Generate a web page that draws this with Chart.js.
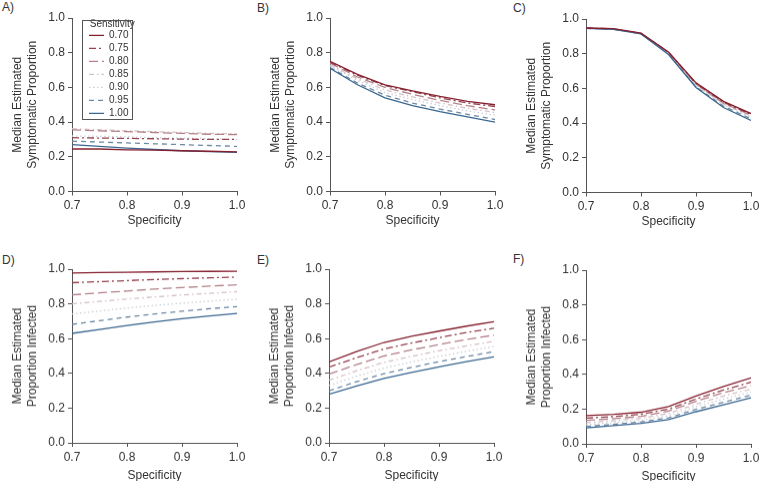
<!DOCTYPE html>
<html>
<head>
<meta charset="utf-8">
<script src="https://cdn.jsdelivr.net/npm/chart.js@4.4.1/dist/chart.umd.min.js"></script>
<style>
  html, body { margin: 0; padding: 0; background: #fff; overflow: hidden; }
  #fig { position: relative; width: 759px; height: 481px; font-family: 'Liberation Sans', Arial, sans-serif; }
  .panel { position: absolute; }
  .tag { position: absolute; font-size: 12px; line-height: 12px; color: #333; }
</style>
</head>
<body>
<div id="fig">
  <div class="tag" style="left:2px;top:1px">A)</div>
  <div class="tag" style="left:257px;top:2px">B)</div>
  <div class="tag" style="left:513px;top:2px">C)</div>
  <div class="tag" style="left:2px;top:254px">D)</div>
  <div class="tag" style="left:257px;top:254px">E)</div>
  <div class="tag" style="left:513px;top:253px">F)</div>
  <div class="panel" id="boxA" style="left:0;top:0"><canvas id="chartA"></canvas></div>
  <div class="panel" id="boxB" style="left:258px;top:0"><canvas id="chartB"></canvas></div>
  <div class="panel" id="boxC" style="left:514px;top:1px"><canvas id="chartC"></canvas></div>
  <div class="panel" id="boxD" style="left:0;top:251px"><canvas id="chartD"></canvas></div>
  <div class="panel" id="boxE" style="left:257px;top:251px"><canvas id="chartE"></canvas></div>
  <div class="panel" id="boxF" style="left:514px;top:252px"><canvas id="chartF"></canvas></div>
</div>
<script>
// -------------------------------------------- data
const specificity = [0.70, 0.75, 0.80, 0.85, 0.90, 0.95, 1.00];
const sensitivity = ['0.70', '0.75', '0.80', '0.85', '0.90', '0.95', '1.00'];
const xTicks = [0.7, 0.8, 0.9, 1.0];
const yTicks = [0.0, 0.2, 0.4, 0.6, 0.8, 1.0];

// one row per sensitivity, one value per specificity
const symptomaticA = [
    [0.245, 0.245, 0.240, 0.238, 0.235, 0.232, 0.228],
    [0.310, 0.308, 0.306, 0.304, 0.302, 0.300, 0.300],
    [0.355, 0.350, 0.345, 0.340, 0.335, 0.330, 0.328],
    [0.362, 0.356, 0.350, 0.345, 0.340, 0.335, 0.332],
    [0.320, 0.318, 0.315, 0.310, 0.308, 0.305, 0.300],
    [0.290, 0.285, 0.280, 0.275, 0.270, 0.265, 0.260],
    [0.270, 0.260, 0.250, 0.242, 0.235, 0.230, 0.225]
];
const symptomaticB = [
    [0.750, 0.675, 0.615, 0.580, 0.548, 0.520, 0.500],
    [0.745, 0.670, 0.610, 0.575, 0.540, 0.510, 0.490],
    [0.740, 0.660, 0.600, 0.560, 0.525, 0.495, 0.470],
    [0.730, 0.650, 0.585, 0.545, 0.510, 0.480, 0.455],
    [0.725, 0.640, 0.570, 0.530, 0.495, 0.465, 0.440],
    [0.715, 0.625, 0.555, 0.510, 0.475, 0.445, 0.415],
    [0.710, 0.615, 0.540, 0.495, 0.460, 0.430, 0.400]
];
const symptomaticC = [
    [0.948, 0.944, 0.918, 0.810, 0.632, 0.525, 0.455],
    [0.948, 0.943, 0.917, 0.808, 0.628, 0.520, 0.450],
    [0.947, 0.943, 0.917, 0.806, 0.625, 0.515, 0.445],
    [0.947, 0.942, 0.916, 0.804, 0.620, 0.510, 0.440],
    [0.947, 0.942, 0.915, 0.802, 0.615, 0.505, 0.435],
    [0.946, 0.941, 0.915, 0.800, 0.610, 0.498, 0.425],
    [0.946, 0.940, 0.914, 0.795, 0.605, 0.490, 0.415]
];
const infectedD = [
    [0.978, 0.980, 0.982, 0.984, 0.986, 0.987, 0.988],
    [0.922, 0.928, 0.934, 0.940, 0.945, 0.950, 0.954],
    [0.852, 0.863, 0.874, 0.885, 0.894, 0.902, 0.910],
    [0.800, 0.814, 0.828, 0.840, 0.851, 0.861, 0.870],
    [0.742, 0.759, 0.776, 0.791, 0.804, 0.816, 0.826],
    [0.682, 0.703, 0.724, 0.742, 0.758, 0.772, 0.784],
    [0.630, 0.653, 0.675, 0.696, 0.715, 0.731, 0.745]
];
const infectedE = [
    [0.466, 0.525, 0.578, 0.613, 0.643, 0.672, 0.697],
    [0.435, 0.490, 0.540, 0.575, 0.605, 0.635, 0.660],
    [0.395, 0.450, 0.500, 0.535, 0.566, 0.595, 0.620],
    [0.360, 0.415, 0.463, 0.498, 0.530, 0.558, 0.585],
    [0.330, 0.383, 0.430, 0.465, 0.498, 0.527, 0.555],
    [0.300, 0.352, 0.398, 0.434, 0.467, 0.497, 0.525],
    [0.280, 0.327, 0.370, 0.405, 0.437, 0.467, 0.495]
];
const infectedF = [
    [0.162, 0.170, 0.182, 0.215, 0.275, 0.330, 0.380],
    [0.148, 0.157, 0.170, 0.200, 0.258, 0.310, 0.355],
    [0.135, 0.145, 0.158, 0.188, 0.245, 0.295, 0.335],
    [0.122, 0.133, 0.147, 0.175, 0.228, 0.275, 0.315],
    [0.110, 0.122, 0.136, 0.162, 0.213, 0.258, 0.298],
    [0.100, 0.112, 0.126, 0.150, 0.198, 0.240, 0.280],
    [0.092, 0.105, 0.118, 0.140, 0.185, 0.225, 0.265]
];

// -------------------------------------------- styles
const lineColors = ['#85202f', '#974350', '#b3828a', '#d5c1c6', '#cbcfd5', '#6b88a5', '#3a6690'];
const lineDashes = [[], [7, 3, 2, 3], [9, 4], [5, 3, 1.5, 3], [1.5, 2.5], [5, 4], []];
const fontFamily = "'Liberation Sans', Arial, sans-serif";
const ink = '#333';
const axisColor = '#555';

// moves the legend to its spot inside panel A and draws the frame round it
const legendFrame = {
    id: 'legendFrame',
    afterLayout(chart) {
        const lg = chart.legend;
        if (!lg || !lg.options.display) return;
        const dx = chart.chartArea.left + 14 - lg.left;
        const dy = chart.chartArea.top + 1.3 - lg.top;
        lg.left += dx;
        lg.top += dy;
        for (let hb of lg.legendHitBoxes) {
            hb.left += dx;
            hb.top += dy;
        }
    },
    afterDraw(chart) {
        const lg = chart.legend;
        if (!lg || !lg.options.display) return;
        let bottom = 0;
        for (let hb of lg.legendHitBoxes) bottom = Math.max(bottom, hb.top + hb.height);
        const ctx = chart.ctx;
        ctx.save();
        ctx.strokeStyle = axisColor;
        ctx.lineWidth = 1;
        ctx.setLineDash([]);
        ctx.strokeRect(Math.round(lg.left - 4) + 0.5, Math.round(lg.top + 0.7) + 0.5, 50, Math.round(bottom - lg.top));
        ctx.restore();
    }
};

// legend samples take the dash of the line, not of the (hidden) points
function lineLabels(chart) {
    const items = Chart.defaults.plugins.legend.labels.generateLabels(chart);
    items.forEach((it) => {
        const ds = chart.data.datasets[it.datasetIndex];
        it.lineDash = ds.borderDash;
        it.strokeStyle = ds.borderColor;
        it.lineWidth = ds.borderWidth;
    });
    return items;
}

function buildPanel(id, rows, yTitle, plotH, xH, withLegend) {
    const box = document.getElementById('box' + id);
    box.style.width = '250px';
    box.style.height = (18 + plotH + xH + 2) + 'px';

    const datasets = rows.map((row, i) => ({
        label: sensitivity[i],
        data: specificity.map((x, j) => ({x: x, y: row[j]})),
        borderColor: lineColors[i],
        backgroundColor: lineColors[i],
        borderDash: lineDashes[i],
        borderWidth: 1.3,
        pointRadius: 0,
        pointStyle: 'line',
        tension: 0,
        // outer (darker) lines on top
        order: (i === 0 || i === 6) ? 0 : 1,
    }));

    return new Chart(document.getElementById('chart' + id), {
        type: 'line',
        data: {datasets: datasets},
        plugins: withLegend ? [legendFrame] : [],
        options: {
            responsive: true,
            maintainAspectRatio: false,
            animation: false,
            events: [],
            layout: {padding: {left: 0, top: 18, right: 13, bottom: 2}},
            plugins: {
                tooltip: {enabled: false},
                legend: {
                    display: withLegend,
                    position: 'chartArea',
                    align: 'start',
                    title: {
                        display: true,
                        text: 'Sensitivity',
                        position: 'center',
                        color: ink,
                        padding: {top: 0, bottom: -2},
                        font: {family: fontFamily, size: 10, lineHeight: 1.0},
                    },
                    labels: {
                        usePointStyle: true,
                        pointStyleWidth: 15,
                        boxHeight: 8,
                        padding: 3,
                        color: ink,
                        font: {family: fontFamily, size: 10},
                        generateLabels: lineLabels,
                        sort: (a, b) => a.datasetIndex - b.datasetIndex,
                    }
                }
            },
            scales: {
                x: {
                    type: 'linear',
                    min: 0.7,
                    max: 1.0,
                    afterFit: (s) => { s.height = xH; },
                    afterBuildTicks: (s) => { s.ticks = xTicks.map(v => ({value: v})); },
                    ticks: {
                        maxRotation: 0,
                        color: ink,
                        padding: 3,
                        font: {family: fontFamily, size: 12},
                        callback: (v) => Number(v).toFixed(1),
                    },
                    grid: {display: true, drawOnChartArea: false, drawTicks: true, tickLength: 4, color: axisColor},
                    border: {display: true, color: axisColor, width: 1},
                    title: {
                        display: true,
                        text: 'Specificity',
                        color: ink,
                        padding: {top: 0, bottom: 0},
                        font: {family: fontFamily, size: 12},
                    }
                },
                y: {
                    type: 'linear',
                    min: 0,
                    max: 1,
                    afterFit: (s) => { s.width = 72; },
                    afterBuildTicks: (s) => { s.ticks = yTicks.map(v => ({value: v})); },
                    ticks: {
                        color: ink,
                        padding: 3,
                        font: {family: fontFamily, size: 12},
                        callback: (v) => Number(v).toFixed(1),
                    },
                    grid: {display: true, drawOnChartArea: false, drawTicks: true, tickLength: 4, color: axisColor},
                    border: {display: true, color: axisColor, width: 1},
                    title: {
                        display: true,
                        text: yTitle,
                        color: ink,
                        padding: {top: 10, bottom: 0},
                        font: {family: fontFamily, size: 12, lineHeight: 1.25},
                    }
                }
            }
        }
    });
}

const symptomaticTitle = ['Median Estimated', 'Symptomatic Proportion'];
const infectedTitle = ['Median Estimated', 'Proportion Infected'];

buildPanel('A', symptomaticA, symptomaticTitle, 173.5, 36.7, true);
buildPanel('B', symptomaticB, symptomaticTitle, 173.5, 36.7, false);
buildPanel('C', symptomaticC, symptomaticTitle, 173.5, 36.7, false);
buildPanel('D', infectedD, infectedTitle, 173, 39.7, false);
buildPanel('E', infectedE, infectedTitle, 173, 39.7, false);
buildPanel('F', infectedF, infectedTitle, 173, 39.7, false);
</script>
</body>
</html>
